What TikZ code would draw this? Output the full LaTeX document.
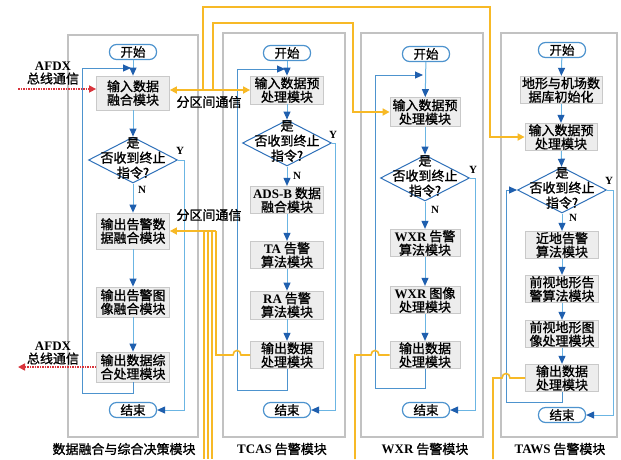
\documentclass[tikz,border=0pt]{standalone}
\usepackage{fontspec}
\setmainfont{Liberation Serif}
\newfontfamily\cjk{Noto Sans CJK SC}[FakeBold=1.2]
\usetikzlibrary{arrows.meta,shapes.geometric,calc}
\definecolor{lblue}{HTML}{6BB5E3}
\definecolor{dblue}{HTML}{1F5FAE}
\definecolor{org}{HTML}{F7B926}
\definecolor{rd}{HTML}{D8343C}
\definecolor{boxfill}{HTML}{EDEDED}
\definecolor{boxline}{HTML}{C9C9C9}
\definecolor{modline}{HTML}{C2C2C2}
\newcommand\latn[1]{{\rmfamily\bfseries #1}}
\begin{document}
\begin{tikzpicture}[x=1pt,y=-1pt,
 proc/.style={draw=boxline, fill=boxfill, line width=0.8pt, inner sep=1pt, align=center,
   font=\fontsize{13}{13.5}\selectfont\cjk, minimum width=73pt, minimum height=28pt},
 term/.style={draw=lblue!60!dblue, fill=white, rounded corners=7pt, line width=1.2pt,
   minimum width=47pt, minimum height=15pt, inner sep=0pt, font=\fontsize{12.5}{13}\selectfont\cjk},
 dec/.style={draw=dblue!80!lblue, fill=white, diamond, line width=1pt, minimum width=89pt,
   minimum height=46pt, inner sep=0pt},
 dtext/.style={align=center, font=\fontsize{13}{15}\selectfont\cjk, inner sep=0pt},
 module/.style={draw=modline, line width=1.2pt},
 flow/.style={draw=lblue, line width=1pt, -{Triangle[length=8pt,width=7pt,color=dblue]}},
 loopl/.style={draw=lblue!60!dblue, line width=1pt},
 loopa/.style={loopl, -{Triangle[length=8pt,width=7pt,color=dblue]}},
 orng/.style={draw=org, line width=1.6pt},
 oarr/.style={orng, -{Triangle[length=7pt,width=7pt]}},
 red/.style={draw=rd, line width=1.5pt, densely dotted, -{Triangle[length=7pt,width=7pt]}},
 lbl/.style={font=\fontsize{13}{13.5}\selectfont\cjk, inner sep=0pt, align=center},
 yn/.style={font=\fontsize{11}{12}\selectfont\bfseries, inner sep=0pt},
]
\useasboundingbox (0,0) rectangle (621,459);
\fill[white] (0,0) rectangle (621,459);

% module frames
\draw[module] (68,35) rectangle (198,437);
\draw[module] (223,33) rectangle (345,437);
\draw[module] (361,33) rectangle (483,437);
\draw[module] (501,33) rectangle (617,437);

% ---------- column 1 ----------
\node[term] (s1) at (133,52) {开始};
\node[proc, minimum height=34pt] (i1) at (133,93) {输入数据\\融合模块};
\node[dec] (d1) at (133,160) {};
\node[dtext] (d1t) at (133,158) {是\\否收到终止\\指令?};
\node[proc, minimum height=36pt] (b12) at (133,231) {输出告警数\\据融合模块};
\node[proc, minimum height=30pt] (b13) at (133,302) {输出告警图\\像融合模块};
\node[proc, minimum height=30pt] (b14) at (133,367) {输出数据综\\合处理模块};
\node[term] (e1) at (133,410) {结束};
\draw[flow] (s1) -- (i1);
\draw[flow] (i1) -- (d1);
\draw[flow] (d1) -- (b12);
\draw[flow] (b12) -- (b13);
\draw[flow] (b13) -- (b14);
\coordinate (l1) at (131,68);
\draw[loopa] (b14.south) -- (133,393) -- (82,393) -- (82,68) -- (l1);
\draw[flow] (d1.east) -- (184,160) -- (184,410) -- (e1.east);
\node[yn] (y1) at (180,151) {Y};
\node[yn] (n1) at (142,190) {N};

% ---------- column 2 ----------
\node[term] (s2) at (287,53) {开始};
\node[proc] (i2) at (287,90) {输入数据预\\处理模块};
\node[dec] (d2) at (287,143) {};
\node[dtext] (d2t) at (287,141) {是\\否收到终止\\指令?};
\node[proc, minimum height=27pt] (b22) at (287,200) {\latn{ADS-B} 数据\\融合模块};
\node[proc, minimum height=27pt] (b23) at (287,255) {\latn{TA} 告警\\算法模块};
\node[proc] (b24) at (287,305) {\latn{RA} 告警\\算法模块};
\node[proc, minimum height=27pt] (b25) at (287,355) {输出数据\\处理模块};
\node[term] (e2) at (287,410) {结束};
\draw[flow] (s2) -- (i2);
\draw[flow] (i2) -- (d2);
\draw[flow] (d2) -- (b22);
\draw[flow] (b22) -- (b23);
\draw[flow] (b23) -- (b24);
\draw[flow] (b24) -- (b25);
\coordinate (l2) at (285,69);
\draw[loopa] (b25.south) -- (287,390) -- (237,390) -- (237,69) -- (l2);
\draw[flow] (d2.east) -- (335,143) -- (335,410) -- (e2.east);
\node[yn] (y2) at (333,135) {Y};
\node[yn] (n2) at (297,176) {N};

% ---------- column 3 ----------
\node[term] (s3) at (426,54) {开始};
\node[proc, minimum width=70pt, minimum height=29pt] (i3) at (425,112) {输入数据预\\处理模块};
\node[dec] (d3) at (425,178) {};
\node[dtext] (d3t) at (425,176) {是\\否收到终止\\指令?};
\node[proc, minimum width=70pt, minimum height=27pt] (b32) at (425,243) {\latn{WXR} 告警\\算法模块};
\node[proc, minimum width=70pt, minimum height=27pt] (b33) at (425,300) {\latn{WXR} 图像\\处理模块};
\node[proc, minimum width=70pt, minimum height=27pt] (b34) at (425,355) {输出数据\\处理模块};
\node[term] (e3) at (426,410) {结束};
\draw[flow] (s3) -- (i3);
\draw[flow] (i3) -- (d3);
\draw[flow] (d3) -- (b32);
\draw[flow] (b32) -- (b33);
\draw[flow] (b33) -- (b34);
\coordinate (l3) at (423,75);
\draw[loopa] (b34.south) -- (425,388) -- (375,388) -- (375,75) -- (l3);
\draw[flow] (d3.east) -- (475,178) -- (475,410) -- (e3.east);
\node[yn] (y3) at (473,170) {Y};
\node[yn] (n3) at (435,210) {N};

% ---------- column 4 ----------
\node[term] (s4) at (562,50) {开始};
\node[proc, minimum width=82pt, minimum height=26pt] (b41) at (561,90) {地形与机场数\\据库初始化};
\node[proc, minimum width=72pt, minimum height=27pt] (i4) at (561,137) {输入数据预\\处理模块};
\node[dec] (d4) at (562,190) {};
\node[dtext] (d4t) at (562,188) {是\\否收到终止\\指令?};
\node[proc, minimum height=25pt] (b43) at (562,245) {近地告警\\算法模块};
\node[proc, minimum height=27pt] (b44) at (562,289) {前视地形告\\警算法模块};
\node[proc, minimum height=27pt] (b45) at (562,334) {前视地形图\\像处理模块};
\node[proc, minimum height=27pt] (b46) at (562,378) {输出数据\\处理模块};
\node[term] (e4) at (562,415) {结束};
\draw[flow] (s4) -- (b41);
\draw[flow] (b41) -- (i4);
\draw[flow] (i4) -- (d4);
\draw[flow] (d4) -- (b43);
\draw[flow] (b43) -- (b44);
\draw[flow] (b44) -- (b45);
\draw[flow] (b45) -- (b46);
\draw[loopa] (b46.south) -- (562,402) -- (506,402) -- (506,190) -- (d4.west);
\draw[flow] (d4.east) -- (613,190) -- (613,415) -- (e4.east);
\node[yn] (y4) at (609,181) {Y};
\node[yn] (n4) at (573,218) {N};

% ---------- orange partition communication ----------
\draw[orng, {Triangle[length=7pt,width=7pt]}-{Triangle[length=7pt,width=7pt]}] (i1.east |- i2.west) -- (i2.west);
\draw[oarr] (203,90) -- (203,7) -- (490,7) -- (490,137) -- (i4.west);
\draw[oarr] (213,90) -- (213,23) -- (353,23) -- (353,112) -- (i3.west);
\draw[oarr] (216,231) -- (b12.east);
\draw[orng] (216,231) -- (216,355) -- (233,355) .. controls (233,349) and (241,349) .. (241,355) -- (b25.west);
\draw[orng] (204,231) -- (204,459);
\draw[orng] (208,231) -- (208,459);
\draw[orng] (212,231) -- (212,459);
\draw[orng] (b34.west) -- (379,355) .. controls (379,349) and (371,349) .. (371,355) -- (355,355) -- (355,459);
\draw[orng] (b46.west) -- (510,378) .. controls (510,372) and (502,372) .. (502,378) -- (493,378) -- (493,459);
\node[lbl] (c1) at (209,102) {分区间通信};
\node[lbl] (c2) at (209,215) {分区间通信};

% ---------- AFDX ----------
\node[lbl] (a1) at (53,73) {\latn{AFDX}\\总线通信};
\coordinate (r1) at (18,89);
\draw[red] (r1) -- (i1.west |- r1);
\node[lbl] (a2) at (53,353) {\latn{AFDX}\\总线通信};
\coordinate (r2) at (18,367);
\draw[red] (b14.west) -- (r2);

% ---------- module labels ----------
\node[lbl] (m1) at (124,449) {数据融合与综合决策模块};
\node[lbl] (m2) at (282,449) {\latn{TCAS} 告警模块};
\node[lbl] (m3) at (425,449) {\latn{WXR} 告警模块};
\node[lbl] (m4) at (560,449) {\latn{TAWS} 告警模块};
\end{tikzpicture}
\end{document}
